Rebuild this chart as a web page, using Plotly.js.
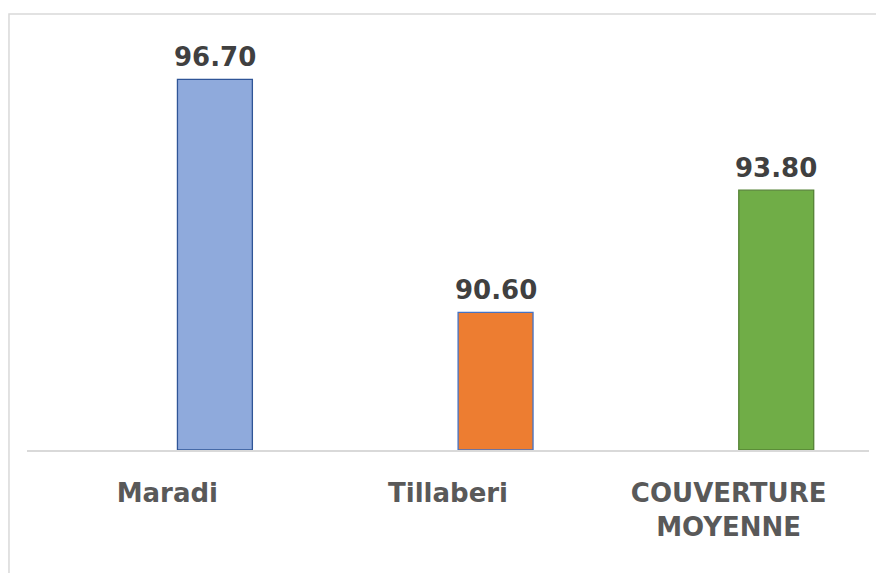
<!DOCTYPE html>
<html>
<head>
<meta charset="utf-8">
<script src="https://cdn.plot.ly/plotly-3.0.1.min.js"></script>
<style>html,body{margin:0;padding:0;background:#fff;}#chart{width:876px;height:573px;}</style>
</head>
<body>
<div id="chart"></div>
<script>
const categories = ["Maradi", "Tillaberi", "COUVERTURE<br>MOYENNE"];
const values = [96.70, 90.60, 93.80];
const valueLabels = ["96.70", "90.60", "93.80"];
const fillColors = ["#8FAADC", "#ED7D31", "#70AD47"];
const lineColors = ["#2F5597", "#4472C4", "#548235"];
const BASE = 87;
const BAR_W = 0.267, BAR_OFF = 0.036;

const trace = {
  type: "bar",
  x: categories,
  y: values.map(v => v - BASE),
  base: BASE,
  width: BAR_W,
  offset: BAR_OFF,
  marker: {color: fillColors, line: {color: lineColors, width: 1.3}},
  hoverinfo: "none"
};

const annotations = values.map((v, i) => ({
  xref: "x", yref: "y",
  x: i + BAR_OFF + BAR_W / 2, y: v,
  text: valueLabels[i],
  showarrow: false,
  xanchor: "center", yanchor: "bottom",
  yshift: 5,
  font: {family: "DejaVu Sans", size: 26, color: "#404040", weight: "bold"}
}));

const layout = {
  width: 876, height: 573,
  margin: {l: 27, r: 7, t: 40, b: 123},
  paper_bgcolor: "#fff", plot_bgcolor: "#fff",
  showlegend: false,
  bargap: 0,
  xaxis: {
    type: "category",
    range: [-0.5, 2.5],
    showgrid: false, zeroline: false,
    showline: true, linecolor: "#d9d9d9", linewidth: 1.5,
    ticks: "",
    ticklabelstandoff: 19,
    tickfont: {family: "DejaVu Sans", size: 26, color: "#595959", weight: "bold"}
  },
  yaxis: {
    range: [87, 97.73],
    showgrid: false, zeroline: false, showline: false,
    showticklabels: false, ticks: ""
  },
  annotations: annotations,
  shapes: [{
    type: "rect", xref: "paper", yref: "paper",
    x0: -0.0214, x1: 1.02, y0: -0.33, y1: 1.0634,
    line: {color: "#d9d9d9", width: 1.5}, fillcolor: "rgba(0,0,0,0)", layer: "below"
  }]
};

Plotly.newPlot("chart", [trace], layout, {displayModeBar: false, staticPlot: true});
</script>
</body>
</html>
